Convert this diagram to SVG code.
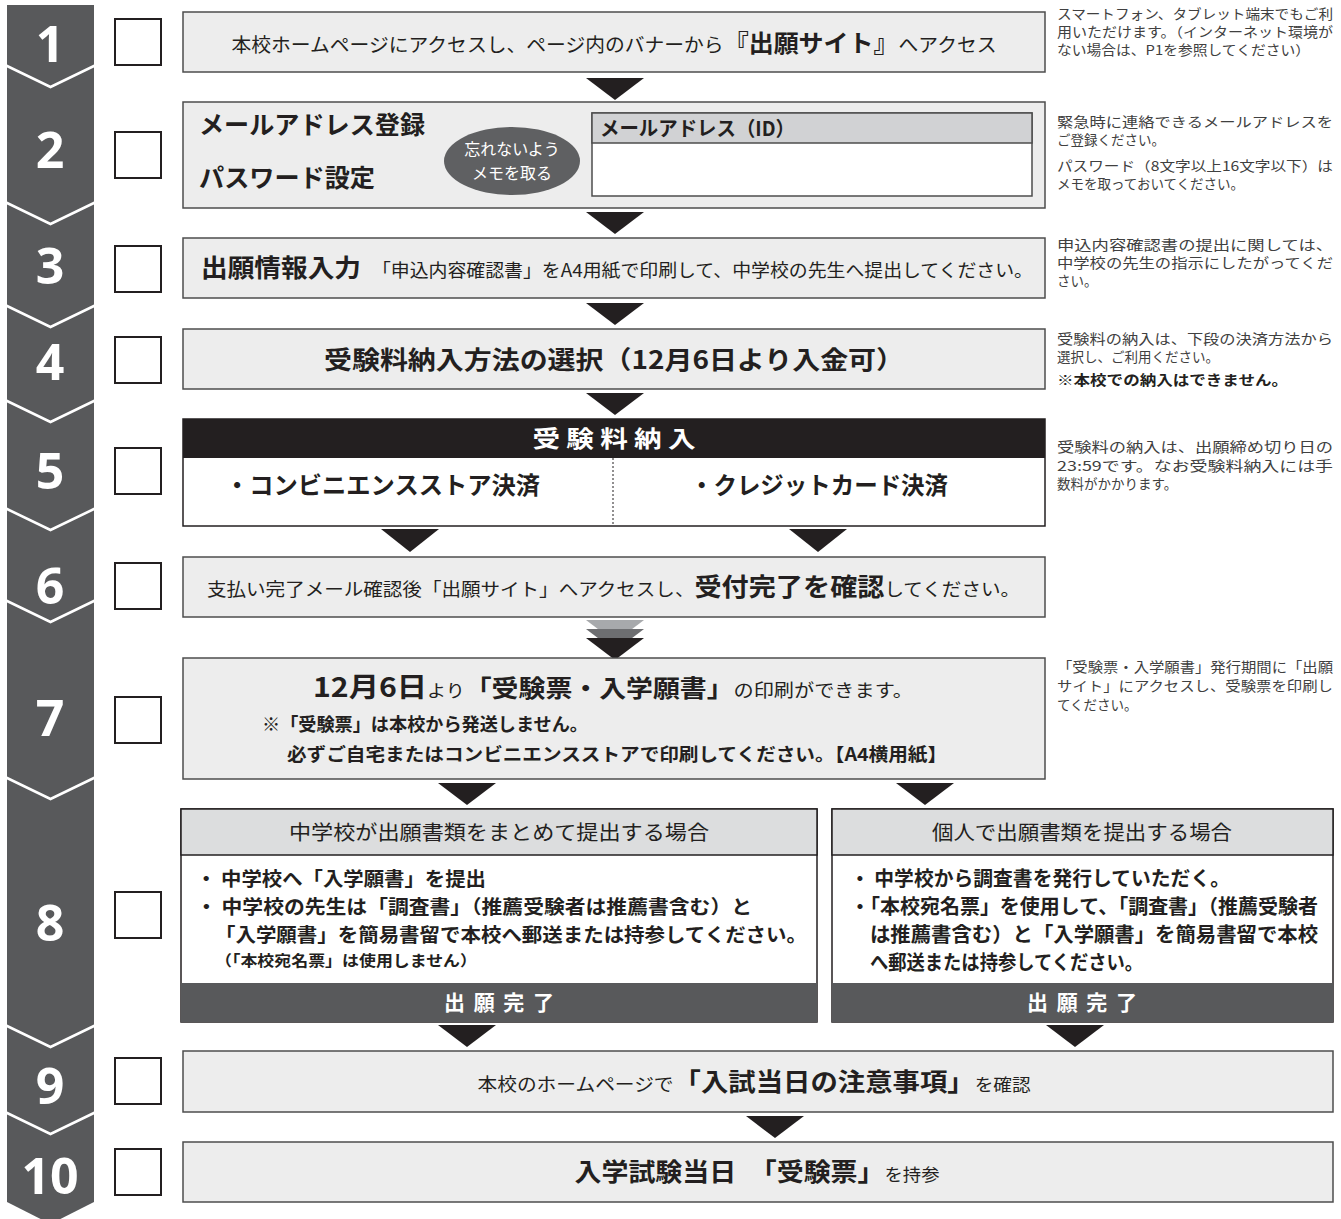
<svg xmlns="http://www.w3.org/2000/svg" width="1341" height="1219" viewBox="0 0 1341 1219">
<style>
.num{font-family:"Open Sans","Noto Sans",sans-serif;font-weight:700;font-size:50px;fill:#fff;text-anchor:middle}
.jp{font-family:"Noto Sans CJK JP",sans-serif;fill:#231f20}
.b{font-weight:700}
.note{font-family:"Noto Sans CJK JP",sans-serif;font-size:13.5px;fill:#404040}
.box{fill:#ededed;stroke:#4d4d4d;stroke-width:1.5}
.cb{fill:#fff;stroke:#231f20;stroke-width:2}
.arr{fill:#231f20}
.sep{fill:none;stroke:#fff;stroke-width:2.5}
.mid{text-anchor:middle}
</style>
<g id="step-column">
<path d="M7,5 H94 V1202 L50.5,1224 L7,1202 Z" fill="#58595b"/>
<polyline class="sep" points="5,65 50.5,87 96,65"/>
<polyline class="sep" points="5,202 50.5,224 96,202"/>
<polyline class="sep" points="5,305 50.5,327 96,305"/>
<polyline class="sep" points="5,400 50.5,422 96,400"/>
<polyline class="sep" points="5,508 50.5,530 96,508"/>
<polyline class="sep" points="5,600 50.5,622 96,600"/>
<polyline class="sep" points="5,777 50.5,799 96,777"/>
<polyline class="sep" points="5,1025 50.5,1047 96,1025"/>
<polyline class="sep" points="5,1112 50.5,1134 96,1112"/>
<text class="num" x="50" y="62">1</text>
<text class="num" x="50" y="168">2</text>
<text class="num" x="50" y="284">3</text>
<text class="num" x="50" y="380">4</text>
<text class="num" x="50" y="489">5</text>
<text class="num" x="50" y="604">6</text>
<text class="num" x="50" y="736">7</text>
<text class="num" x="50" y="941">8</text>
<text class="num" x="50" y="1104">9</text>
<text class="num" x="50" y="1194">10</text>
</g>
<g id="checkboxes">
<rect class="cb" x="115" y="19" width="46" height="46"/>
<rect class="cb" x="115" y="132" width="46" height="46"/>
<rect class="cb" x="115" y="246" width="46" height="46"/>
<rect class="cb" x="115" y="337" width="46" height="46"/>
<rect class="cb" x="115" y="448" width="46" height="46"/>
<rect class="cb" x="115" y="563" width="46" height="46"/>
<rect class="cb" x="115" y="697" width="46" height="46"/>
<rect class="cb" x="115" y="892" width="46" height="46"/>
<rect class="cb" x="115" y="1058" width="46" height="46"/>
<rect class="cb" x="115" y="1149" width="46" height="46"/>
</g>
<g id="connectors">
<polygon class="arr" points="586,78 644,78 615,100"/>
<polygon class="arr" points="586,212 644,212 615,234"/>
<polygon class="arr" points="586,303 644,303 615,325"/>
<polygon class="arr" points="586,393 644,393 615,415"/>
<polygon class="arr" points="381,529 439,529 410,552"/>
<polygon class="arr" points="789,529 847,529 818,552"/>
<polygon points="586,620 644,620 615,642" fill="#a7a9ac"/>
<polygon points="586,629 644,629 615,651" fill="#6d6e71"/>
<polygon class="arr" points="586,638 644,638 615,660"/>
<polygon class="arr" points="438,783 496,783 467,805"/>
<polygon class="arr" points="896,783 954,783 925,805"/>
<polygon class="arr" points="438,1025 496,1025 467,1047"/>
<polygon class="arr" points="1046,1025 1104,1025 1075,1047"/>
<polygon class="arr" points="746,1116 804,1116 775,1138"/>
</g>
<g id="step1">
<rect class="box" x="183" y="12" width="862" height="60"/>
<text class="jp mid" x="614" y="52" textLength="765" lengthAdjust="spacingAndGlyphs"><tspan font-size="19">本校ホームページにアクセスし、ページ内のバナーから</tspan><tspan class="b" font-size="24">『出願サイト』</tspan><tspan font-size="19">へアクセス</tspan></text>
</g>
<g id="step2">
<rect class="box" x="183" y="102" width="862" height="106"/>
<text class="jp b" x="199" y="134" font-size="25" textLength="226" lengthAdjust="spacingAndGlyphs">メールアドレス登録</text>
<text class="jp b" x="199" y="187" font-size="25" textLength="176" lengthAdjust="spacingAndGlyphs">パスワード設定</text>
<ellipse cx="512" cy="161" rx="68" ry="34" fill="#5f6062"/>
<text class="jp mid" x="512" y="155" font-size="16" style="fill:#fff">忘れないよう</text>
<text class="jp mid" x="512" y="179" font-size="16" style="fill:#fff">メモを取る</text>
<rect x="592" y="113" width="440" height="83" fill="#fff" stroke="#4d4d4d" stroke-width="1.5"/>
<rect x="592" y="113" width="440" height="30" fill="#d1d2d4" stroke="#4d4d4d" stroke-width="1.5"/>
<text class="jp b" x="600" y="136" font-size="20" textLength="195" lengthAdjust="spacingAndGlyphs">メールアドレス（ID）</text>
</g>
<g id="step3">
<rect class="box" x="183" y="238" width="862" height="60"/>
<text class="jp b" x="201" y="277" font-size="25" textLength="160" lengthAdjust="spacingAndGlyphs">出願情報入力</text>
<text class="jp" x="372" y="277" font-size="18" textLength="661" lengthAdjust="spacingAndGlyphs">「申込内容確認書」をA4用紙で印刷して、中学校の先生へ提出してください。</text>
</g>
<g id="step4">
<rect class="box" x="183" y="329" width="862" height="60"/>
<text class="jp b mid" x="614" y="369" font-size="25" textLength="580" lengthAdjust="spacingAndGlyphs">受験料納入方法の選択（12月6日より入金可）</text>
</g>
<g id="step5">
<rect x="183" y="419" width="862" height="107" fill="#fff" stroke="#231f20" stroke-width="1.5"/>
<rect x="183" y="419" width="862" height="39" fill="#231f20"/>
<line x1="613" y1="458" x2="613" y2="526" stroke="#231f20" stroke-width="1" stroke-dasharray="2,2"/>
<text class="jp b mid" x="614" y="447" font-size="23" style="fill:#fff" textLength="163" lengthAdjust="spacingAndGlyphs">受 験 料 納 入</text>
<text class="jp b" x="225" y="494" font-size="24" textLength="315" lengthAdjust="spacingAndGlyphs">・コンビニエンスストア決済</text>
<text class="jp b" x="690" y="494" font-size="24" textLength="258" lengthAdjust="spacingAndGlyphs">・クレジットカード決済</text>
</g>
<g id="step6">
<rect class="box" x="183" y="557" width="862" height="60"/>
<text class="jp" x="207" y="596" textLength="813" lengthAdjust="spacingAndGlyphs"><tspan font-size="18">支払い完了メール確認後「出願サイト」へアクセスし、</tspan><tspan class="b" font-size="25">受付完了を確認</tspan><tspan font-size="18">してください。</tspan></text>
</g>
<g id="step7">
<rect class="box" x="183" y="658" width="862" height="121"/>
<text class="jp" x="313" y="697" textLength="600" lengthAdjust="spacingAndGlyphs"><tspan class="b" font-size="27">12月6日</tspan><tspan font-size="17">より</tspan><tspan class="b" font-size="24">「受験票・入学願書」</tspan><tspan font-size="18">の印刷ができます。</tspan></text>
<text class="jp b" x="262" y="731" font-size="18" textLength="326" lengthAdjust="spacingAndGlyphs">※「受験票」は本校から発送しません。</text>
<text class="jp b" x="287" y="761" font-size="18" textLength="660" lengthAdjust="spacingAndGlyphs">必ずご自宅またはコンビニエンスストアで印刷してください。【A4横用紙】</text>
</g>
<g id="step8-school">
<rect x="181" y="809" width="636" height="213" fill="#fff" stroke="#231f20" stroke-width="1.5"/>
<rect x="181" y="809" width="636" height="46" fill="#dcddde" stroke="#231f20" stroke-width="1.5"/>
<rect x="181" y="983" width="636" height="39" fill="#58595b"/>
<text class="jp mid" x="499" y="840" font-size="20" textLength="420" lengthAdjust="spacingAndGlyphs">中学校が出願書類をまとめて提出する場合</text>
<text class="jp b" x="196" y="886" font-size="19" textLength="290" lengthAdjust="spacingAndGlyphs">・ 中学校へ「入学願書」を提出</text>
<text class="jp b" x="196" y="914" font-size="19" textLength="556" lengthAdjust="spacingAndGlyphs">・ 中学校の先生は「調査書」（推薦受験者は推薦書含む）と</text>
<text class="jp b" x="215" y="942" font-size="19" textLength="592" lengthAdjust="spacingAndGlyphs">「入学願書」を簡易書留で本校へ郵送または持参してください。</text>
<text class="jp b" x="215" y="966" font-size="15" textLength="262" lengthAdjust="spacingAndGlyphs">（「本校宛名票」は使用しません）</text>
<text class="jp b mid" x="499" y="1010" font-size="21" style="fill:#fff" textLength="110" lengthAdjust="spacing">出 願 完 了</text>
</g>
<g id="step8-individual">
<rect x="832" y="809" width="501" height="213" fill="#fff" stroke="#231f20" stroke-width="1.5"/>
<rect x="832" y="809" width="501" height="46" fill="#dcddde" stroke="#231f20" stroke-width="1.5"/>
<rect x="832" y="983" width="501" height="39" fill="#58595b"/>
<text class="jp mid" x="1082" y="840" font-size="20" textLength="300" lengthAdjust="spacingAndGlyphs">個人で出願書類を提出する場合</text>
<text class="jp b" x="850" y="886" font-size="20" textLength="380" lengthAdjust="spacingAndGlyphs">・ 中学校から調査書を発行していただく。</text>
<text class="jp b" x="850" y="914" font-size="20" textLength="468" lengthAdjust="spacingAndGlyphs">・「本校宛名票」を使用して、「調査書」（推薦受験者</text>
<text class="jp b" x="870" y="942" font-size="20" textLength="448" lengthAdjust="spacingAndGlyphs">は推薦書含む）と「入学願書」を簡易書留で本校</text>
<text class="jp b" x="870" y="970" font-size="20" textLength="273" lengthAdjust="spacingAndGlyphs">へ郵送または持参してください。</text>
<text class="jp b mid" x="1082" y="1010" font-size="21" style="fill:#fff" textLength="110" lengthAdjust="spacing">出 願 完 了</text>
</g>
<g id="step9">
<rect class="box" x="183" y="1051" width="1150" height="61"/>
<text class="jp mid" x="754" y="1091" textLength="553" lengthAdjust="spacingAndGlyphs"><tspan font-size="18">本校のホームページで</tspan><tspan class="b" font-size="25">「入試当日の注意事項」</tspan><tspan font-size="17">を確認</tspan></text>
</g>
<g id="step10">
<rect class="box" x="183" y="1142" width="1150" height="60"/>
<text class="jp mid" x="757" y="1181" textLength="365" lengthAdjust="spacingAndGlyphs"><tspan class="b" font-size="25">入学試験当日　「受験票」</tspan><tspan font-size="17">を持参</tspan></text>
</g>
<g id="notes">
<text class="note" x="1057" y="19" textLength="276" lengthAdjust="spacingAndGlyphs">スマートフォン、タブレット端末でもご利</text>
<text class="note" x="1057" y="37" textLength="276" lengthAdjust="spacingAndGlyphs">用いただけます。（インターネット環境が</text>
<text class="note" x="1057" y="55" textLength="253" lengthAdjust="spacingAndGlyphs">ない場合は、P1を参照してください）</text>
<text class="note" x="1057" y="127" textLength="276" lengthAdjust="spacingAndGlyphs">緊急時に連絡できるメールアドレスを</text>
<text class="note" x="1057" y="145">ご登録ください。</text>
<text class="note" x="1057" y="171" textLength="276" lengthAdjust="spacingAndGlyphs">パスワード（8文字以上16文字以下）は</text>
<text class="note" x="1057" y="189">メモを取っておいてください。</text>
<text class="note" x="1057" y="250" textLength="276" lengthAdjust="spacingAndGlyphs">申込内容確認書の提出に関しては、</text>
<text class="note" x="1057" y="268" textLength="276" lengthAdjust="spacingAndGlyphs">中学校の先生の指示にしたがってくだ</text>
<text class="note" x="1057" y="286">さい。</text>
<text class="note" x="1057" y="344" textLength="276" lengthAdjust="spacingAndGlyphs">受験料の納入は、下段の決済方法から</text>
<text class="note" x="1057" y="362">選択し、ご利用ください。</text>
<text class="note b" x="1057" y="385" style="fill:#231f20" textLength="231" lengthAdjust="spacingAndGlyphs">※本校での納入はできません。</text>
<text class="note" x="1057" y="452" textLength="276" lengthAdjust="spacingAndGlyphs">受験料の納入は、出願締め切り日の</text>
<text class="note" x="1057" y="471" textLength="276" lengthAdjust="spacingAndGlyphs">23:59です。なお受験料納入には手</text>
<text class="note" x="1057" y="489">数料がかかります。</text>
<text class="note" x="1057" y="672" textLength="276" lengthAdjust="spacingAndGlyphs">「受験票・入学願書」発行期間に「出願</text>
<text class="note" x="1057" y="691" textLength="276" lengthAdjust="spacingAndGlyphs">サイト」にアクセスし、受験票を印刷し</text>
<text class="note" x="1057" y="710">てください。</text>
</g>
</svg>
